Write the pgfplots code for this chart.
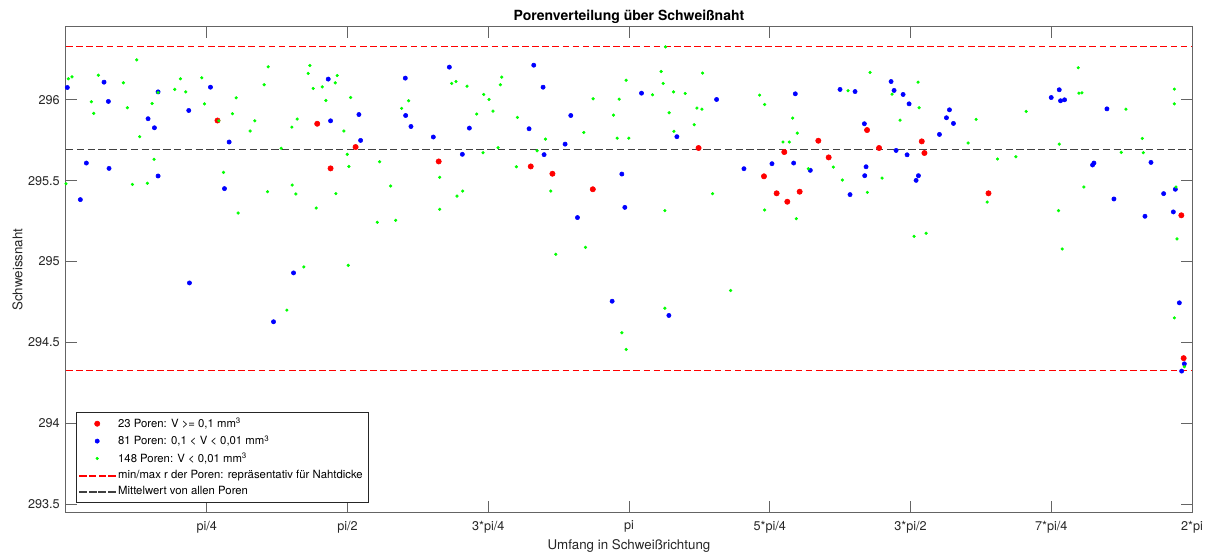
\documentclass[border=0pt]{standalone}
\usepackage{fontspec}
\setmainfont{TeX Gyre Heros}
\usepackage{pgfplots}
\pgfplotsset{compat=1.18}
\usepackage{pgfplotstable}
\usetikzlibrary{calc}

\definecolor{axgray}{RGB}{100,100,100}
\definecolor{txtgray}{RGB}{38,38,38}
\definecolor{meangray}{RGB}{64,64,64}

% Umfangswinkel in Grad, Radius in mm
\pgfplotstableread{
x y
48.43 295.872
80.32 295.852
92.59 295.708
84.59 295.576
119.15 295.619
148.59 295.588
155.52 295.543
168.43 295.447
202.24 295.702
229.65 295.677
223.15 295.527
227.20 295.422
230.61 295.370
234.56 295.432
240.53 295.747
243.84 295.644
256.11 295.813
259.95 295.702
273.60 295.743
274.45 295.671
294.93 295.422
356.59 295.286
357.33 294.403
}\grosseporen

\pgfplotstableread{
x y
0.43 296.076
12.16 296.109
13.55 295.990
29.44 296.049
46.19 296.078
39.25 295.934
26.24 295.883
28.27 295.827
52.16 295.739
6.51 295.609
13.76 295.576
29.44 295.529
4.59 295.383
50.67 295.451
39.47 294.868
83.84 296.128
108.48 296.134
93.65 295.909
84.59 295.870
108.59 295.903
110.29 295.835
117.44 295.770
94.19 295.749
72.75 294.930
66.35 294.628
122.56 296.202
149.55 296.214
152.53 296.078
161.39 295.903
128.96 295.825
148.05 295.821
159.57 295.726
126.72 295.663
152.85 295.661
163.52 295.272
174.61 294.755
177.71 295.541
178.67 295.335
184.00 296.041
208.00 296.002
195.31 295.772
233.17 296.037
216.75 295.574
225.71 295.605
232.64 295.609
192.75 294.667
247.47 296.064
252.27 296.051
263.79 296.113
264.75 296.058
267.63 296.033
269.55 295.975
282.45 295.938
281.49 295.889
283.73 295.854
279.25 295.786
255.25 295.852
265.39 295.687
268.91 295.660
237.97 295.564
255.79 295.586
255.36 295.531
272.53 295.531
271.79 295.502
250.67 295.414
317.55 296.062
314.99 296.014
317.97 295.994
319.25 296.000
332.80 295.944
328.21 295.597
328.64 295.609
346.88 295.613
335.04 295.387
350.93 295.420
354.67 295.447
344.96 295.280
354.03 295.307
355.95 294.745
357.55 294.368
356.69 294.323
}\mittlereporen

\pgfplotstableread{
x y
0.75 296.130
1.92 296.142
10.35 296.152
22.61 296.247
18.35 296.105
8.11 295.988
8.85 295.916
19.63 295.951
27.52 295.977
29.44 296.045
34.77 296.064
36.59 296.130
38.29 296.049
43.41 296.136
44.27 295.975
54.40 296.012
53.23 295.914
48.85 295.870
58.88 295.807
23.57 295.772
28.16 295.632
0.00 295.481
21.23 295.477
26.03 295.484
50.35 295.551
55.04 295.300
64.64 296.204
63.36 296.093
60.37 295.870
77.97 296.212
77.44 296.163
86.72 296.150
86.08 296.105
81.92 296.080
79.04 296.070
83.09 295.996
90.99 296.014
73.92 295.881
72.21 295.831
88.85 295.807
68.80 295.700
109.55 295.994
107.31 295.947
89.92 295.663
90.45 295.588
100.27 295.617
103.79 295.467
72.32 295.473
64.43 295.432
73.49 295.418
86.29 295.420
80.00 295.331
99.52 295.243
105.39 295.255
90.24 294.977
76.05 294.967
70.61 294.700
123.31 296.101
124.69 296.113
128.21 296.084
133.55 296.033
135.25 296.002
139.31 296.140
138.88 296.093
136.53 295.930
131.31 295.912
144.32 295.891
153.28 295.757
138.13 295.704
133.33 295.673
150.61 295.685
144.00 295.586
165.55 295.798
168.53 296.006
175.04 295.905
176.21 295.763
176.85 296.004
119.47 295.521
125.01 295.405
126.83 295.436
119.47 295.323
154.99 295.436
166.08 295.088
156.59 295.045
191.68 296.327
190.29 296.175
179.09 296.121
190.93 296.101
203.52 296.165
194.24 296.049
187.52 296.031
197.97 296.039
201.71 295.949
203.31 295.942
192.85 295.920
200.85 295.846
194.35 295.805
179.95 295.763
221.76 296.029
223.36 295.971
232.32 295.887
233.81 295.794
229.23 295.739
231.25 295.739
206.72 295.420
191.47 295.315
223.36 295.319
233.49 295.265
212.48 294.821
191.47 294.712
177.71 294.560
179.09 294.457
257.07 296.169
250.03 296.056
264.11 296.035
272.43 296.109
272.75 295.951
266.67 295.874
290.99 295.879
288.43 295.733
237.33 295.574
245.33 295.584
248.21 295.504
260.91 295.516
256.21 295.428
294.51 295.368
271.15 295.156
274.99 295.175
323.63 296.198
323.84 296.041
324.80 296.043
306.99 295.928
338.88 295.942
354.35 296.066
354.35 295.975
344.11 295.761
317.55 295.726
297.81 295.634
303.68 295.648
337.39 295.675
344.43 295.673
325.44 295.461
354.88 295.461
317.33 295.315
318.51 295.078
355.20 295.140
354.35 294.652
357.55 294.350
}\kleineporen

\begin{document}
\begin{tikzpicture}
\begin{axis}[
  scale only axis,
  width=844.5pt, height=364pt,
  xmin=0, xmax=360, ymin=293.45, ymax=296.45,
  xtick={45,90,135,180,225,270,315,360},
  xticklabels={pi/4,pi/2,3*pi/4,pi,5*pi/4,3*pi/2,7*pi/4,2*pi},
  ytick={293.5,294,294.5,295,295.5,296},
  yticklabels={293.5,294,294.5,295,295.5,296},
  tick align=inside,
  major tick length=8.25pt,
  axis line style={axgray, line width=0.75pt},
  every tick/.style={axgray, line width=0.75pt},
  ticklabel style={font=\fontsize{9.5}{11}\selectfont, text=txtgray},
  xticklabel style={anchor=center, yshift=-10.9pt},
  yticklabel style={anchor=east, inner sep=0pt, xshift=-4.5pt},
  title={Porenverteilung über Schweißnaht},
  every axis title shift=0pt,
  title style={at={(axis description cs:0.5,1.0206)}, anchor=center,
    font=\fontsize{10.5}{12}\selectfont\bfseries, text=black},
  xlabel={Umfang in Schweißrichtung},
  xlabel style={at={(axis description cs:0.5,-0.0695)}, anchor=center,
    font=\fontsize{10}{12}\selectfont, text=txtgray},
  ylabel={Schweissnaht},
  ylabel style={at={(axis description cs:-0.0431,0.5)}, anchor=center,
    font=\fontsize{10}{12}\selectfont, text=txtgray},
  legend image code/.code={%
    \draw[mark repeat=2,mark phase=2,#1] plot coordinates {(0pt,0pt) (13.5pt,0pt) (27pt,0pt)};},
  legend cell align=left,
  legend style={at={(axis description cs:0.0089,0.0206)}, anchor=south west,
    draw=txtgray, fill=white, font=\fontsize{8.5}{10}\selectfont,
    inner xsep=2pt, inner ysep=2pt, row sep=0.5pt},
]
\addplot[only marks, mark=*, mark size=2pt, color=red]
  table[x=x, y=y] {\grosseporen};
\addlegendentry{23 Poren: V >= 0,1 mm\textsuperscript{3}}
\addplot[only marks, mark=*, mark size=1.6pt, color=blue]
  table[x=x, y=y] {\mittlereporen};
\addlegendentry{81 Poren: 0,1 < V < 0,01 mm\textsuperscript{3}}
\addplot[only marks, mark=*, mark size=1.0pt, color=green]
  table[x=x, y=y] {\kleineporen};
\addlegendentry{148 Poren: V < 0,01 mm\textsuperscript{3}}
% min/max Radius der Poren
\addplot[color=red, line width=0.7pt, dash pattern=on 5pt off 2.6pt, forget plot]
  coordinates {(0,296.327) (360,296.327)};
\addplot[color=red, line width=0.7pt, dash pattern=on 5pt off 2.6pt, forget plot]
  coordinates {(0,294.325) (360,294.325)};
% Mittelwert aller Poren
\addplot[color=meangray, line width=0.9pt, dash pattern=on 5.5pt off 2.6pt, forget plot]
  coordinates {(0,295.693) (360,295.693)};
% Legendensymbole der Linien als gefuellte Striche
\addlegendimage{legend image code/.code={%
  \foreach \a in {0,7.33,14.67,22}{\fill[red] (\a pt,-0.35pt) rectangle ++(5pt,0.7pt);}}}
\addlegendentry{min/max r der Poren: repräsentativ für Nahtdicke}
\addlegendimage{legend image code/.code={%
  \foreach \a in {0,7.17,14.33,21.5}{\fill[meangray] (\a pt,-0.45pt) rectangle ++(5.5pt,0.9pt);}}}
\addlegendentry{Mittelwert von allen Poren}
\end{axis}
\pgfresetboundingbox
\path[use as bounding box] ($(current axis.south west)+(-49.5pt,-31.3pt)$) rectangle ($(current axis.north east)+(12.75pt,20.25pt)$);
\end{tikzpicture}
\end{document}
